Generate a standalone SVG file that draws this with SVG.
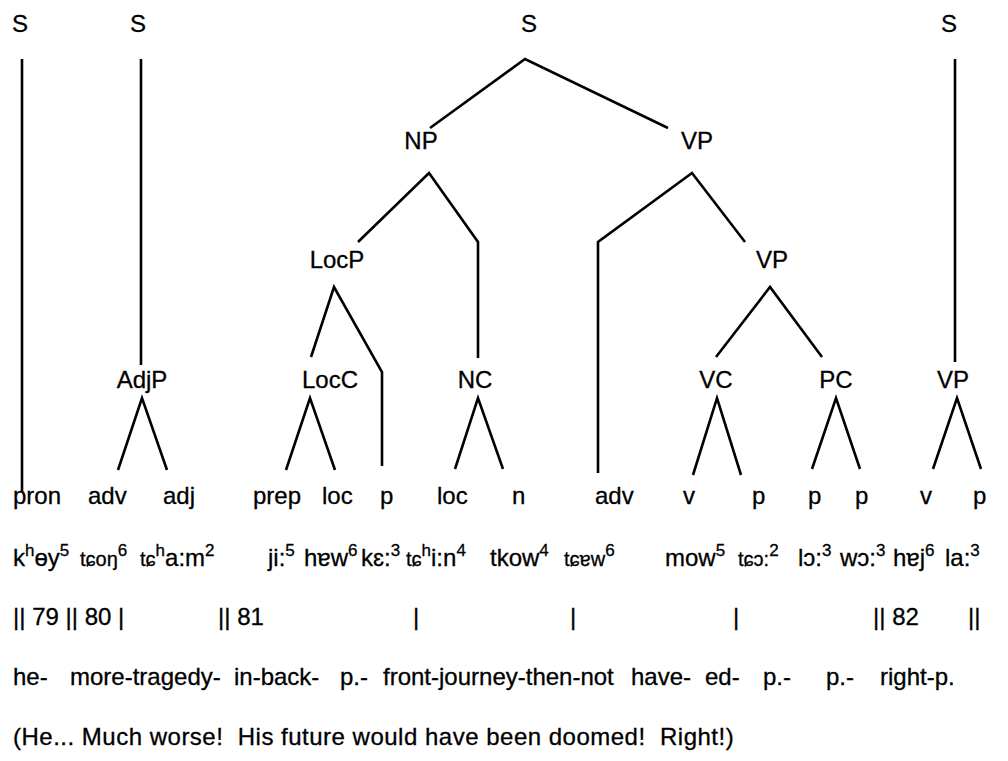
<svg xmlns="http://www.w3.org/2000/svg" width="1008" height="761" viewBox="0 0 1008 761">
<style>
text{font-family:"Liberation Sans","DejaVu Sans",Arial,sans-serif;font-size:24px;fill:#000;stroke:#000;stroke-width:0.3}
.lab{text-anchor:middle}
.sup{font-size:17px}
.ipa{font-size:20px}
.edge{fill:none;stroke:#000;stroke-width:2.6;stroke-linejoin:miter}
</style>
<rect width="1008" height="761" fill="#fff"/>
<g id="connectors">
<polyline class="edge" points="22,59 22,492"/>
<polyline class="edge" points="141,59 141,365"/>
<polyline class="edge" points="430,128 525,59 668,128"/>
<polyline class="edge" points="955,59 955,362"/>
<polyline class="edge" points="358,242 429,173 478,242 478,358"/>
<polyline class="edge" points="598,473 598,242 692,173 745,242"/>
<polyline class="edge" points="311,357 334,287 382,372 382,466"/>
<polyline class="edge" points="716,357 770,287 822,357"/>
<polyline class="edge" points="118,470 142,398 167,470"/>
<polyline class="edge" points="286,470 310,398 335,470"/>
<polyline class="edge" points="455,469 478,398 503,469"/>
<polyline class="edge" points="693,475 717,398 741,475"/>
<polyline class="edge" points="812,469 836,398 860,469"/>
<polyline class="edge" points="933,469 957,398 981,469"/>
</g>
<g id="n-S1"><text class="lab" x="20" y="32">S</text></g>
<g id="n-S2"><text class="lab" x="138" y="32">S</text></g>
<g id="n-S3"><text class="lab" x="529" y="32">S</text></g>
<g id="n-S4"><text class="lab" x="949" y="32">S</text></g>
<g id="n-NP"><text class="lab" x="421" y="149">NP</text></g>
<g id="n-VP1"><text class="lab" x="697" y="149">VP</text></g>
<g id="n-LocP"><text class="lab" x="337" y="268">LocP</text></g>
<g id="n-VP2"><text class="lab" x="772" y="268">VP</text></g>
<g id="n-AdjP"><text class="lab" x="142" y="388">AdjP</text></g>
<g id="n-LocC"><text class="lab" x="330" y="388">LocC</text></g>
<g id="n-NC"><text class="lab" x="475" y="388">NC</text></g>
<g id="n-VC"><text class="lab" x="716" y="388">VC</text></g>
<g id="n-PC"><text class="lab" x="836" y="388">PC</text></g>
<g id="n-VP3"><text class="lab" x="953" y="388">VP</text></g>
<g id="pos">
<text x="13" y="504">pron</text>
<text x="88" y="504">adv</text>
<text x="163" y="504">adj</text>
<text x="253" y="504">prep</text>
<text x="322" y="504">loc</text>
<text x="380" y="504">p</text>
<text x="437" y="504">loc</text>
<text x="512" y="504">n</text>
<text x="595" y="504">adv</text>
<text x="683" y="504">v</text>
<text x="752" y="504">p</text>
<text x="808" y="504">p</text>
<text x="855" y="504">p</text>
<text x="920" y="504">v</text>
<text x="973" y="504">p</text>
</g>
<g id="transcription">
<text x="13" y="566">k<tspan class="sup" dy="-10">h</tspan><tspan dy="10">ɵy</tspan><tspan class="sup" dy="-10">5</tspan></text>
<text x="80" y="566"><tspan class="ipa">tɕoŋ</tspan><tspan class="sup" dy="-10">6</tspan></text>
<text x="140" y="566"><tspan class="ipa">tɕ</tspan><tspan class="sup" dy="-10">h</tspan><tspan dy="10">a:m</tspan><tspan class="sup" dy="-10">2</tspan></text>
<text x="268" y="566">ji:<tspan class="sup" dy="-10">5</tspan></text>
<text x="304" y="566">hɐw<tspan class="sup" dy="-10">6</tspan></text>
<text x="361" y="566">kɛ:<tspan class="sup" dy="-10">3</tspan></text>
<text x="406" y="566"><tspan class="ipa">tɕ</tspan><tspan class="sup" dy="-10">h</tspan><tspan dy="10">i:n</tspan><tspan class="sup" dy="-10">4</tspan></text>
<text x="490" y="566">tkow<tspan class="sup" dy="-10">4</tspan></text>
<text x="564" y="566"><tspan class="ipa">tɕɐw</tspan><tspan class="sup" dy="-10">6</tspan></text>
<text x="665" y="566">mow<tspan class="sup" dy="-10">5</tspan></text>
<text x="738" y="566"><tspan class="ipa">tɕɔ:</tspan><tspan class="sup" dy="-10">2</tspan></text>
<text x="798" y="566">lɔ:<tspan class="sup" dy="-10">3</tspan></text>
<text x="840" y="566">wɔ:<tspan class="sup" dy="-10">3</tspan></text>
<text x="893" y="566">hɐj<tspan class="sup" dy="-10">6</tspan></text>
<text x="945" y="566">la:<tspan class="sup" dy="-10">3</tspan></text>
</g>
<g id="bars">
<text x="13" y="625">|| 79 || 80 |</text>
<text x="218" y="625">|| 81</text>
<text x="413" y="625">|</text>
<text x="570" y="625">|</text>
<text x="733" y="625">|</text>
<text x="873" y="625">|| 82</text>
<text x="968" y="625">||</text>
</g>
<g id="gloss">
<text x="13" y="685">he-</text>
<text x="70" y="685">more-tragedy-</text>
<text x="234" y="685">in-back-</text>
<text x="340" y="685">p.-</text>
<text x="383" y="685">front-journey-then-not</text>
<text x="631" y="685">have-</text>
<text x="705" y="685">ed-</text>
<text x="763" y="685">p.-</text>
<text x="826" y="685">p.-</text>
<text x="880" y="685">right-p.</text>
</g>
<g id="translation">
<text x="13" y="745" letter-spacing="0.5" xml:space="preserve">(He... Much worse!  His future would have been doomed!  Right!)</text>
</g>
</svg>
